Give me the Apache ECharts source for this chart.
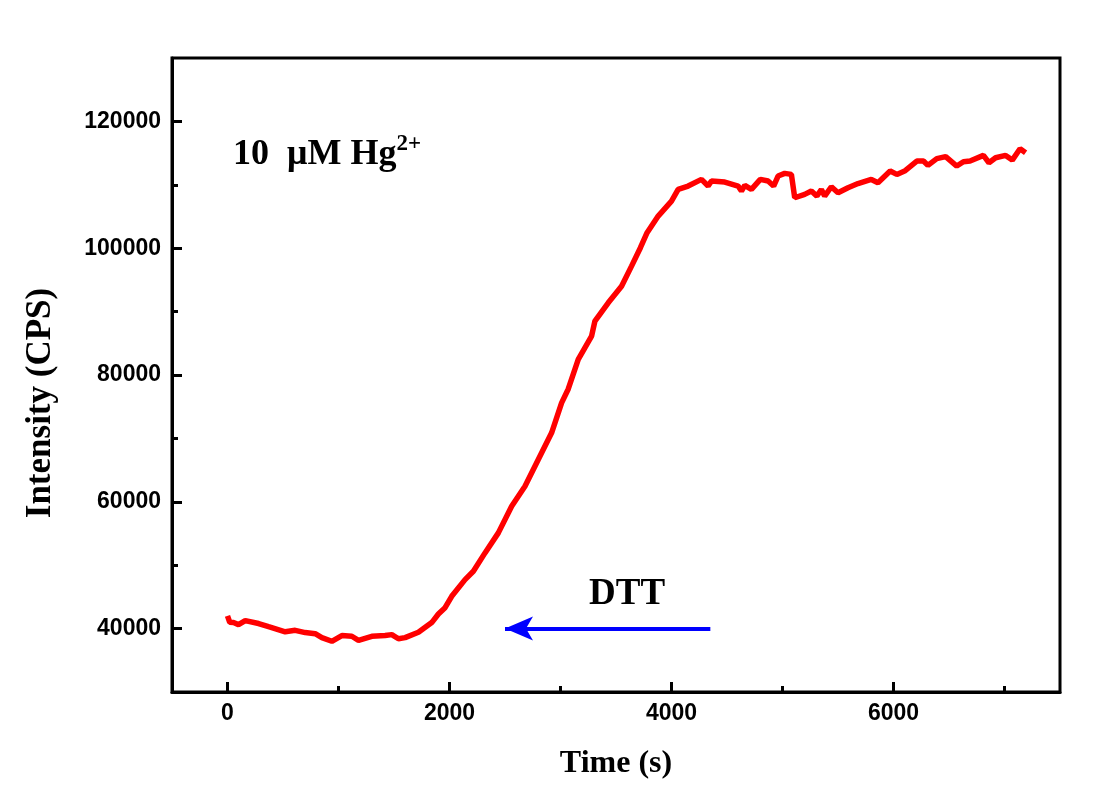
<!DOCTYPE html>
<html>
<head>
<meta charset="utf-8">
<script src="https://cdn.jsdelivr.net/npm/echarts@6/dist/echarts.min.js"></script>
<style>
  html, body { margin: 0; padding: 0; background: #fff; }
  #chart { width: 1100px; height: 787px; }
</style>
</head>
<body>
<div id="chart"></div>
<script>
// time (s) and intensity (CPS)
const timeS = [0, 20, 54, 99, 160, 280, 370, 520, 610, 700, 790, 850, 940, 1030, 1120, 1180, 1300, 1420, 1480, 1540, 1600, 1720, 1840, 1900, 1960, 2020, 2140, 2215, 2320, 2440, 2560, 2680, 2800, 2920, 3010, 3070, 3160, 3280, 3310, 3430, 3550, 3640, 3720, 3780, 3880, 4000, 4060, 4150, 4270, 4330, 4360, 4480, 4600, 4630, 4660, 4720, 4800, 4870, 4920, 4960, 5020, 5080, 5110, 5200, 5260, 5310, 5350, 5380, 5440, 5500, 5590, 5680, 5800, 5860, 5970, 6030, 6100, 6210, 6270, 6310, 6390, 6470, 6570, 6630, 6690, 6810, 6860, 6920, 7010, 7070, 7140, 7190];
const intensity = [42000, 41000, 40950, 40630, 41260, 40800, 40300, 39500, 39730, 39370, 39200, 38580, 38000, 38900, 38790, 38150, 38790, 38900, 39050, 38400, 38580, 39420, 40950, 42300, 43300, 45100, 47730, 49040, 51940, 55100, 59300, 62450, 66670, 70880, 75610, 77800, 82450, 86120, 88490, 91390, 94010, 97170, 100080, 102440, 105070, 107430, 109270, 109800, 110850, 109800, 110590, 110430, 109800, 109010, 109900, 109270, 110850, 110590, 109800, 111380, 111800, 111640, 107960, 108490, 109010, 108220, 109270, 108220, 109690, 108750, 109540, 110200, 110850, 110330, 112170, 111640, 112170, 113750, 113750, 113060, 114120, 114440, 112960, 113640, 113750, 114640, 113480, 114270, 114640, 113900, 115690, 115060];

const xMajor = [0, 2000, 4000, 6000];
const xMinor = [1000, 3000, 5000, 7000];
const yMajor = [40000, 60000, 80000, 100000, 120000];
const yMinor = [50000, 70000, 90000, 110000];

// DTT arrow: from tail to head
const arrowFrom = [4350, 40000];
const arrowTo = [2500, 40000];

const trace = timeS.map((t, i) => [t, intensity[i]]);

const chart = echarts.init(document.getElementById('chart'));

const labelFont = {
  color: '#000',
  fontFamily: 'Liberation Sans, Arial, sans-serif',
  fontWeight: 'bold',
  fontSize: 23,
  formatter: (v) => String(v)
};
const serif = 'Liberation Serif, Times New Roman, serif';

chart.setOption({
  animation: false,
  backgroundColor: '#fff',
  title: [
    {
      text: '{a|10  μM Hg}{b|2+}',
      left: 228,
      top: 128,
      textStyle: {
        rich: {
          a: { fontFamily: serif, fontWeight: 'bold', fontSize: 36, color: '#000', lineHeight: 44 },
          b: { fontFamily: serif, fontWeight: 'bold', fontSize: 23, color: '#000', lineHeight: 23, verticalAlign: 'top' }
        }
      }
    },
    {
      text: 'DTT',
      left: 584,
      top: 571,
      textStyle: { fontFamily: serif, fontWeight: 'bold', fontSize: 37, color: '#000' }
    }
  ],
  grid: {
    left: 172,
    right: 40,
    top: 58,
    bottom: 95,
    show: true,
    borderColor: '#000',
    borderWidth: 3
  },
  xAxis: [
    {
      type: 'value',
      min: -500,
      max: 7500,
      position: 'bottom',
      name: 'Time (s)',
      nameLocation: 'middle',
      nameGap: 56,
      nameTextStyle: { fontFamily: serif, fontWeight: 'bold', fontSize: 32, color: '#000' },
      axisLine: { onZero: false, lineStyle: { color: '#000', width: 3 } },
      axisTick: { inside: true, length: 10, lineStyle: { color: '#000', width: 3 }, customValues: xMajor },
      axisLabel: Object.assign({ margin: 10, customValues: xMajor }, labelFont),
      splitLine: { show: false }
    },
    {
      type: 'value',
      min: -500,
      max: 7500,
      position: 'bottom',
      axisLine: { show: false, onZero: false },
      axisTick: { inside: true, length: 6, lineStyle: { color: '#000', width: 3 }, customValues: xMinor },
      axisLabel: { show: false },
      splitLine: { show: false }
    }
  ],
  yAxis: [
    {
      type: 'value',
      min: 30000,
      max: 130000,
      position: 'left',
      name: 'Intensity (CPS)',
      nameLocation: 'middle',
      nameGap: 114,
      nameTextStyle: { fontFamily: serif, fontWeight: 'bold', fontSize: 35, color: '#000', padding: [0, 56, 0, 0] },
      axisLine: { show: true, onZero: false, lineStyle: { color: '#000', width: 3 } },
      axisTick: { show: true, inside: true, length: 10, lineStyle: { color: '#000', width: 3 }, customValues: yMajor },
      axisLabel: Object.assign({ margin: 11, customValues: yMajor }, labelFont),
      splitLine: { show: false }
    },
    {
      type: 'value',
      min: 30000,
      max: 130000,
      position: 'left',
      axisLine: { show: false, onZero: false },
      axisTick: { show: true, inside: true, length: 6, lineStyle: { color: '#000', width: 3 }, customValues: yMinor },
      axisLabel: { show: false },
      splitLine: { show: false }
    }
  ],
  series: [
    {
      name: 'intensity',
      type: 'line',
      data: trace,
      showSymbol: false,
      symbol: 'none',
      lineStyle: { color: '#ff0000', width: 5.5 },
      z: 3
    },
    {
      name: 'arrow',
      type: 'line',
      data: [],
      markLine: {
        silent: true,
        symbol: ['none', 'arrow'],
        symbolSize: [18, 28],
        label: { show: false },
        lineStyle: { color: '#0000ff', width: 4, type: 'solid' },
        data: [[{ coord: arrowFrom }, { coord: arrowTo }]]
      }
    }
  ]
});
</script>
</body>
</html>
